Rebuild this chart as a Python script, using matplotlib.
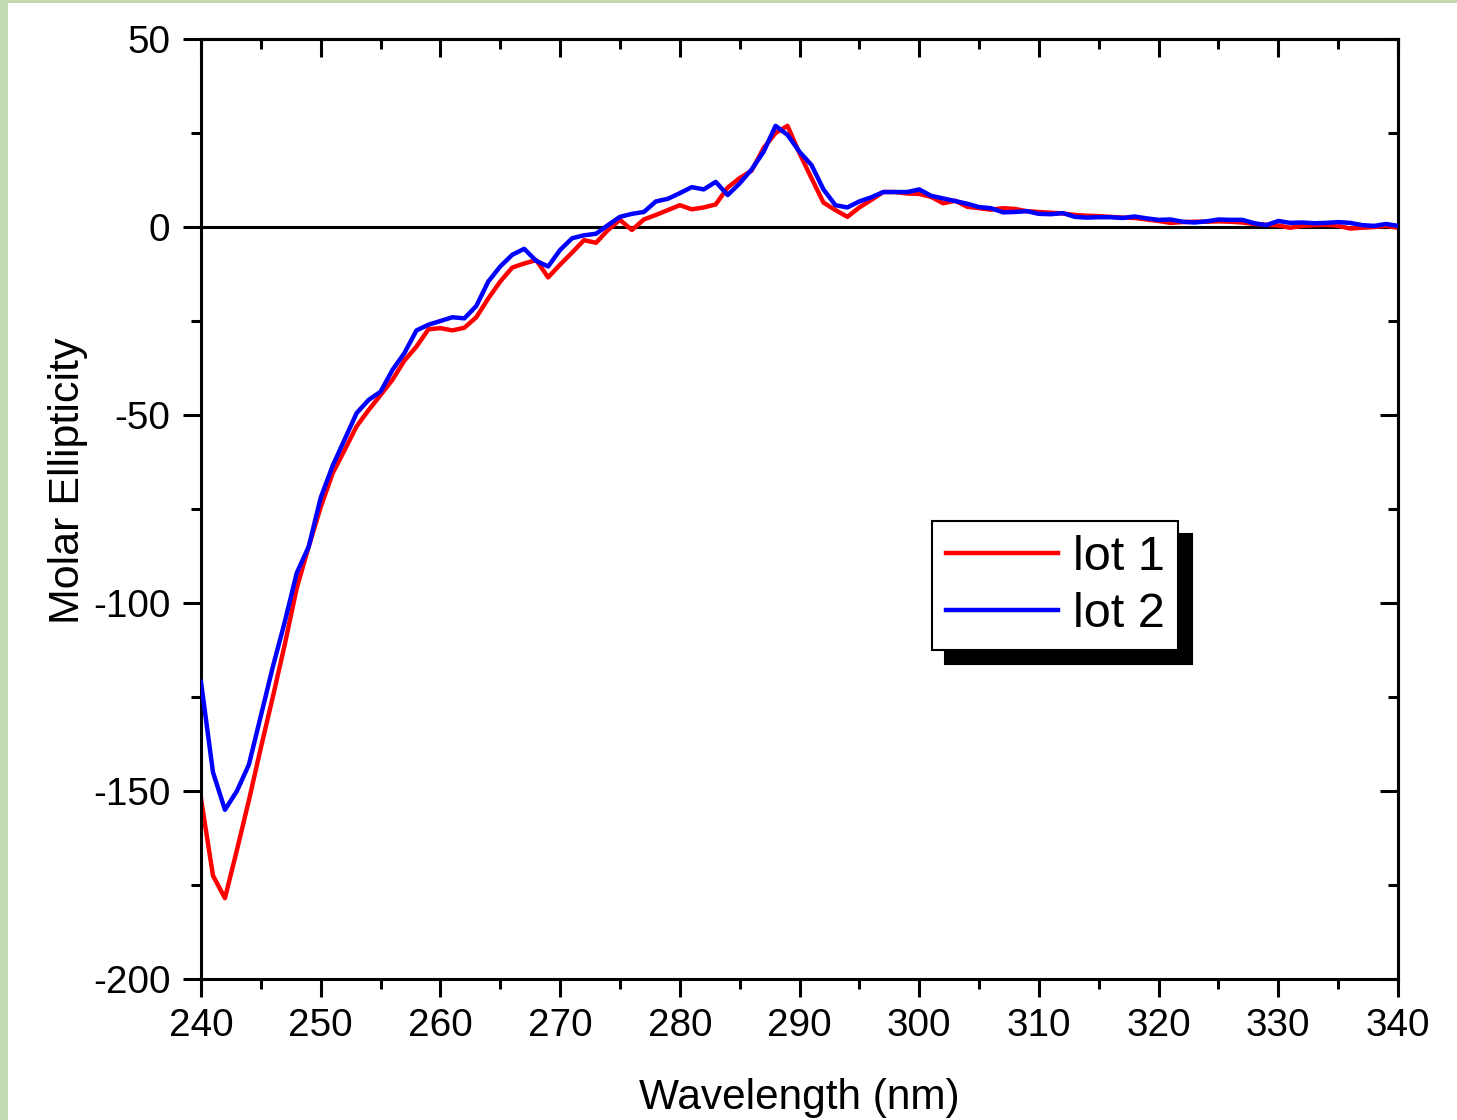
import numpy as np
import matplotlib
matplotlib.use("Agg")
import matplotlib.pyplot as plt
from matplotlib.ticker import MultipleLocator
from matplotlib.patches import Rectangle

plt.rcParams['font.family'] = ['Liberation Sans', 'DejaVu Sans']
plt.rcParams['axes.unicode_minus'] = False

wavelength = list(range(240, 341))

lot1 = [-152, -172.5, -178.5, -165.7, -152.5, -138.5, -125, -111, -96, -85,
        -74.5, -65.5, -59.3, -53, -48.7, -44.7, -40.6, -35.5, -31.8, -27.2,
        -26.9, -27.5, -26.8, -24, -19, -14.5, -10.8, -9.7, -8.8, -13.4,
        -10, -6.8, -3.5, -4.2, -0.8, 1.9, -0.8, 2.0, 3.2, 4.5,
        5.8, 4.7, 5.2, 6, 10.5, 13, 15, 21, 25, 26.9,
        19.6, 13, 6.5, 4.5, 2.7, 5.2, 7.2, 9.3, 9.3, 8.9,
        8.8, 8.0, 6.3, 7.0, 5.4, 5.0, 4.6, 5.0, 4.8, 4.2,
        4.0, 3.8, 3.6, 3.2, 3.0, 2.9, 2.7, 2.5, 2.4, 2.0,
        1.6, 1.1, 1.3, 1.4, 1.4, 1.5, 1.4, 1.2, 0.8, 0.6,
        0.4, -0.2, 0.3, 0.5, 0.6, 0.3, -0.4, -0.2, 0, 0.3,
        -0.2]

lot2 = [-121, -145, -155, -150, -143, -130, -117, -105, -92, -85,
        -72, -63.5, -56.5, -49.5, -46, -43.8, -38, -33.5, -27.5, -26,
        -25, -24, -24.3, -21, -14.5, -10.5, -7.4, -5.8, -9, -10.5,
        -6.1, -3, -2.2, -1.8, 0.5, 2.7, 3.5, 4.0, 6.8, 7.5,
        9, 10.6, 10, 12, 8.5, 11.6, 15.3, 20, 26.9, 24.5,
        20, 16.5, 10, 5.8, 5.2, 6.8, 7.9, 9.3, 9.3, 9.3,
        10, 8.3, 7.6, 6.9, 6.2, 5.3, 5.0, 3.9, 4.0, 4.2,
        3.5, 3.4, 3.7, 2.7, 2.5, 2.6, 2.6, 2.4, 2.8, 2.3,
        1.9, 2.0, 1.4, 1.2, 1.5, 2.0, 1.9, 1.9, 1.0, 0.5,
        1.6, 1.1, 1.2, 1.0, 1.1, 1.3, 1.1, 0.5, 0.3, 0.8,
        0.3]

x_ticks = list(range(240, 341, 10))
y_ticks = [-200, -150, -100, -50, 0, 50]

fig = plt.figure(figsize=(14.57, 11.2), dpi=100, facecolor='#c3d9b3')
bg = Rectangle((8 / 1457, 0), 1, 1 - 3 / 1120, transform=fig.transFigure,
               facecolor='white', edgecolor='none')
bg.set_zorder(-10)
fig.add_artist(bg)

ax = fig.add_axes([201 / 1457, 1 - 979 / 1120, (1398 - 201) / 1457, (979 - 39) / 1120])
ax.set_zorder(1)
ax.set_facecolor('white')

ax.axhline(0, color='black', lw=2.2, zorder=1)
ax.plot(wavelength, lot1, color='#ff0000', lw=3.2, label='lot 1', zorder=2)
ax.plot(wavelength, lot2, color='#0000ff', lw=3.2, label='lot 2', zorder=3)

ax.set_xlim(240, 340)
ax.set_ylim(-200, 50)
ax.set_xticks(x_ticks)
ax.set_yticks(y_ticks)
ax.xaxis.set_minor_locator(MultipleLocator(5))
ax.yaxis.set_minor_locator(MultipleLocator(25))

for s in ax.spines.values():
    s.set_linewidth(2.2)

ax.tick_params(which='both', direction='out', width=2.2, top=False, right=False)
ax.tick_params(which='major', length=13)
ax.tick_params(which='minor', length=7)
ax.tick_params(axis='y', which='major', labelsize=27.8, pad=9)
ax.tick_params(axis='x', which='major', labelsize=27.8, pad=8)

# inward ticks on top and right
axt = ax.secondary_xaxis('top')
axt.set_xticks(x_ticks)
axt.xaxis.set_minor_locator(MultipleLocator(5))
axt.tick_params(which='both', direction='in', width=2.2, labeltop=False)
axt.tick_params(which='major', length=13)
axt.tick_params(which='minor', length=7)
axt.spines['top'].set_linewidth(2.2)
axr = ax.secondary_yaxis('right')
axr.set_yticks(y_ticks)
axr.yaxis.set_minor_locator(MultipleLocator(25))
axr.tick_params(which='both', direction='in', width=2.2, labelright=False)
axr.tick_params(which='major', length=13)
axr.tick_params(which='minor', length=7)
axr.spines['right'].set_linewidth(2.2)

ax.set_xlabel('Wavelength (nm)', fontsize=30.5, labelpad=24)
ax.set_ylabel('Molar Ellipticity', fontsize=31)
ax.yaxis.set_label_coords((68 - 201) / 1197, (979 - 481) / 940)
ax.yaxis.label.set_va('center')

leg = ax.legend(loc='upper left', bbox_to_anchor=((932 - 201) / 1197, (979 - 521) / 940),
                borderaxespad=0, fontsize=35, handlelength=2.32, handletextpad=0.3,
                borderpad=0.28, labelspacing=0.25, fancybox=False, framealpha=1,
                edgecolor='black',
                shadow={'ox': 9.5, 'oy': -9.5, 'color': 'black', 'alpha': 1})
leg.get_frame().set_linewidth(1.5)
for line in leg.get_lines():
    line.set_linewidth(3.2)

fig.savefig('out.png', dpi=100, facecolor=fig.get_facecolor())
